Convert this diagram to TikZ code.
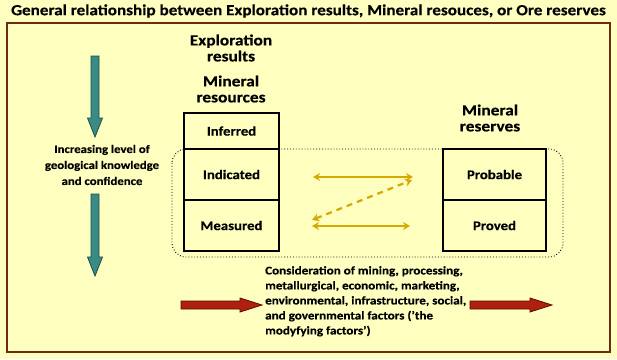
\documentclass[tikz,border=0pt]{standalone}
\usepackage{fontspec}
\setmainfont{Carlito}[FakeStretch=1.12, BoldFeatures={FakeStretch=1.12, FakeBold=0.4}]
\usetikzlibrary{arrows.meta}
\definecolor{bgc}{HTML}{FFFFC0}
\definecolor{framec}{HTML}{6E2A12}
\definecolor{tealc}{HTML}{3A8A86}
\definecolor{tealdark}{HTML}{1E4E4C}
\definecolor{redc}{HTML}{B0200E}
\definecolor{reddark}{HTML}{5A0A00}
\definecolor{goldc}{HTML}{D6A800}
\begin{document}
\begin{tikzpicture}[x=1pt,y=-1pt,
  lbl/.style={font=\bfseries\fontsize{15.5}{16}\selectfont, align=center},
  box/.style={draw=black, line width=1.2pt, fill=bgc, inner sep=0pt, outer sep=0pt, font=\bfseries\fontsize{13.2}{15}\selectfont},
  goldarrow/.style={draw=goldc, line width=2.2pt, {Stealth[length=7pt,width=8pt]}-{Stealth[length=7pt,width=8pt]}},
  blockteal/.style={fill=tealc, draw=tealdark, line width=0.8pt},
  blockred/.style={fill=redc, draw=reddark, line width=0.8pt}]
\fill[bgc] (0,0) rectangle (617,359);
\useasboundingbox (0,0) rectangle (617,359);
\draw[framec, line width=1.8pt] (7,23) rectangle (610,352);
\node[font=\bfseries\fontsize{15.3}{17}\selectfont] (title) at (308.5,11) {General relationship between Exploration results, Mineral resouces, or Ore reserves};
% headings
\node[lbl] (expl) at (231,48) {Exploration\\results};
\node[lbl] (mres) at (231,89) {Mineral\\resources};
\node[lbl] (mrsv) at (490,118) {Mineral\\reserves};
% dotted group
\draw[dotted, line width=0.9pt, rounded corners=14pt] (172,149) rectangle (563,257);
% boxes
\node[box, minimum width=95pt, minimum height=36pt] (inf) at (231.5,131) {Inferred};
\node[box, minimum width=95pt, minimum height=51pt] (ind) at (231.5,174.5) {Indicated};
\node[box, minimum width=95pt, minimum height=51pt] (mea) at (231.5,225.5) {Measured};
\node[box, minimum width=103pt, minimum height=51pt] (prob) at (494.5,174.5) {Probable};
\node[box, minimum width=103pt, minimum height=51pt] (prov) at (494.5,225.5) {Proved};
% gold arrows
\coordinate (a1) at (313,177);
\coordinate (b1) at (413,177);
\coordinate (a2) at (312,220);
\coordinate (b2) at (412,180);
\coordinate (a3) at (312,226);
\coordinate (b3) at (410,226);
\draw[goldarrow] (a1) -- (b1);
\draw[goldarrow, dash pattern=on 6pt off 5pt] (a2) -- (b2);
\draw[goldarrow] (a3) -- (b3);
% teal arrows
\draw[blockteal] (91,56) -- (99,56) -- (99,118) -- (102.5,118) -- (95,137) -- (87.5,118) -- (91,118) -- cycle;
\draw[blockteal] (91,194) -- (99,194) -- (99,257) -- (102.5,257) -- (95,276) -- (87.5,257) -- (91,257) -- cycle;
\node[font=\bfseries\fontsize{11.4}{16}\selectfont, align=center] (know) at (102,165) {Increasing level of\\geological knowledge\\and confidence};
% red arrows
\draw[blockred] (181,301) -- (240,301) -- (240,298) -- (262,305) -- (240,312) -- (240,309) -- (181,309) -- cycle;
\draw[blockred] (470,301) -- (530,301) -- (530,298) -- (552,305) -- (530,312) -- (530,309) -- (470,309) -- cycle;
\node[font=\bfseries\fontsize{11.7}{15}\selectfont, align=left, anchor=north west, inner sep=0pt] (mod) at (265,266) {Consideration of mining, processing,\\metallurgical, economic, marketing,\\environmental, infrastructure, social,\\and governmental factors ('the\\modyfying factors')};
\end{tikzpicture}
\end{document}
